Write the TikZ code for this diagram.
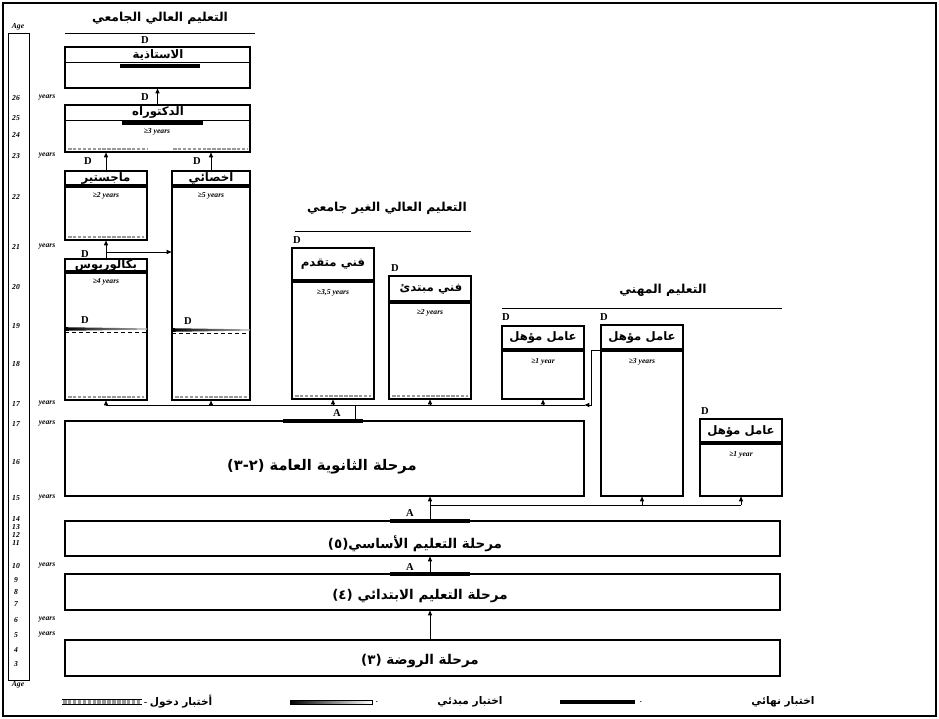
\documentclass[tikz,border=0pt]{standalone}
\usepackage{fontspec}
\setmainfont{Liberation Serif}
\newfontfamily\arabicfont[Script=Arabic]{DejaVu Sans}
\newfontfamily\plainsans{DejaVu Sans}
\TeXXeTstate=1
\usetikzlibrary{fit,arrows.meta}

\newcommand{\artxt}[1]{{\arabicfont\bfseries\beginR #1\endR}}
\newcommand{\lpar}{\hbox{\plainsans\bfseries(}}
\newcommand{\rpar}{\hbox{\plainsans\bfseries)}}
% entry test strip and initial test strip
\newcommand{\entrybar}[3]{\draw[line width=0.5pt, double=white, double distance=2.8pt] (#1,#3) -- (#2,#3);
  \draw[gray!80, line width=2pt, dash pattern=on 3pt off 1.2pt] (#1+1,#3) -- (#2-1,#3);}
\newcommand{\initbar}[3]{\shade[left color=black, right color=gray!60] (#1,#3-1.8) -- (#2,#3-0.6) -- (#2,#3+0.6) -- (#1,#3+1.8) -- cycle;
  \draw[dashed, line width=0.5pt] (#1,#3+3) -- (#2,#3+3);}

\begin{document}
\begin{tikzpicture}[x=0.03cm, y=-0.03cm,
    box/.style={draw, line width=1pt, inner sep=0pt},
    arr/.style={-{Triangle[length=4pt,width=3.5pt]}, line width=0.6pt},
    link/.style={line width=0.6pt},
    finalbar/.style={line width=2.6pt},
    boxtitle/.style={font=\fontsize{10}{12}\selectfont, inner sep=0pt},
    stagetext/.style={font=\fontsize{11.5}{13}\selectfont, inner sep=0pt},
    sectitle/.style={font=\fontsize{10.5}{12}\selectfont, inner sep=0pt},
    dur/.style={font=\fontsize{6.5}{7}\selectfont\bfseries\itshape, inner sep=0pt},
    dlabel/.style={font=\fontsize{9}{10}\selectfont\bfseries, inner sep=0pt},
    agelabel/.style={font=\fontsize{6.5}{7}\selectfont\bfseries\itshape, inner sep=0pt}]

\useasboundingbox (0,0) rectangle (939,719);
\draw[line width=1pt] (3,3) rectangle (936,716);

% age scale
\draw[line width=0.5pt] (8,33) rectangle (29,680);
\node[agelabel] (age-top) at (18,27) {Age};
\node[agelabel] (age-bot) at (18,685) {Age};
\foreach \y/\n/\w in {98/26/years, 118/25/, 135/24/, 156/23/years, 197/22/, 247/21/years,
    287/20/, 326/19/, 364/18/, 404/17/years, 424/17/years, 462/16/, 498/15/years,
    519/14/, 527/13/, 535/12/, 543/11/, 566/10/years, 580/9/, 592/8/, 604/7/,
    620/6/years, 635/5/years, 650/4/, 664/3/}
{
  \node[agelabel] at (16,\y) {\n};
  \node[agelabel] at (47,\y) {\w};
}

% section titles
\node[sectitle] (univ) at (160,18) {\artxt{التعليم العالي الجامعي}};
\draw[line width=0.8pt] (65,33) -- (255,33);
\node[sectitle] (nonuniv) at (387,208) {\artxt{التعليم العالي الغير جامعي}};
\draw[line width=0.8pt] (295,231) -- (471,231);
\node[sectitle] (vocat) at (663,290) {\artxt{التعليم المهني}};
\draw[line width=0.8pt] (502,308) -- (782,308);

% boxes
\node[box, fit={(65,47) (250,88)}] (prof) {};
\node[box, fit={(65,105) (250,152)}] (doc) {};
\node[box, fit={(65,171) (147,240)}] (mast) {};
\node[box, fit={(172,171) (250,400)}] (spec) {};
\node[box, fit={(65,259) (147,400)}] (bach) {};
\node[box, fit={(292,248) (374,399)}] (adv) {};
\node[box, fit={(389,276) (471,399)}] (beg) {};
\node[box, fit={(502,326) (584,399)}] (voc1) {};
\node[box, fit={(601,325) (683,496)}] (voc3) {};
\node[box, fit={(700,419) (782,496)}] (voc1b) {};
\node[box, fit={(65,421) (584,496)}] (sec) {};
\node[box, fit={(65,521) (780,556)}] (basic) {};
\node[box, fit={(65,574) (780,610)}] (prim) {};
\node[box, fit={(65,640) (780,676)}] (kg) {};

% inner lines of the top boxes
\draw[line width=0.4pt] (65,62) -- (250,62);
\draw[line width=0.4pt] (65,120) -- (250,120);
\draw[finalbar] (120,66) -- (200,66);
\draw[finalbar] (122,123) -- (203,123);

% final test bars under the titles
\foreach \xa/\xb/\y in {65/147/186, 172/250/186, 65/147/272, 292/374/281, 389/471/302,
    502/584/350, 601/683/350, 700/782/443, 283/363/421, 390/470/521, 390/470/574}
  \draw[finalbar] (\xa,\y) -- (\xb,\y);

% entry test strips
\entrybar{67}{148}{149}
\entrybar{172}{248}{149}
\entrybar{67}{145}{237}
\entrybar{67}{145}{397}
\entrybar{174}{248}{397}
\entrybar{294}{372}{396}
\entrybar{391}{469}{396}

% initial test strips
\initbar{65}{147}{329}
\initbar{172}{250}{330}

% box texts
\node[boxtitle] (prof-t) at (158,55) {\artxt{الاستاذية}};
\node[boxtitle] (doc-t) at (158,112) {\artxt{الدكتوراه}};
\node[dur] at (157,132) {≥3 years};
\node[boxtitle] (mast-t) at (106,178) {\artxt{ماجستير}};
\node[dur] at (106,196) {≥2 years};
\node[boxtitle] (spec-t) at (211,178) {\artxt{اخصائي}};
\node[dur] at (211,196) {≥5 years};
\node[boxtitle] (bach-t) at (106,265) {\artxt{بكالوريوس}};
\node[dur] at (106,282) {≥4 years};
\node[boxtitle] (adv-t) at (333,264) {\artxt{فني متقدم}};
\node[dur] at (333,293) {≥3,5 years};
\node[boxtitle] (beg-t) at (431,289) {\artxt{فني مبتدئ}};
\node[dur] at (430,313) {≥2 years};
\node[boxtitle] (voc1-t) at (543,337) {\artxt{عامل مؤهل}};
\node[dur] at (543,362) {≥1 year};
\node[boxtitle] (voc3-t) at (642,337) {\artxt{عامل مؤهل}};
\node[dur] at (642,362) {≥3 years};
\node[boxtitle] (voc1b-t) at (741,431) {\artxt{عامل مؤهل}};
\node[dur] at (741,455) {≥1 year};
\node[stagetext, font=\fontsize{12.5}{14}\selectfont] (sec-t) at (322,467)
  {\artxt{مرحلة الثانوية العامة \beginL\lpar\hbox{٣}-\hbox{٢}\rpar\endL}};
\node[stagetext] (basic-t) at (415,544) {\artxt{مرحلة التعليم الأساسي(٥)}};
\node[stagetext] (prim-t) at (420,596) {\artxt{مرحلة التعليم الابتدائي (٤)}};
\node[stagetext] (kg-t) at (420,661) {\artxt{مرحلة الروضة (٣)}};

% D and A marks
\foreach \x/\y in {145/40, 145/97, 88/161, 197/161, 85/254, 85/320, 188/321,
    297/240, 395/268, 506/317, 604/317, 705/411}
  \node[dlabel] at (\x,\y) {D};
\foreach \x/\y in {337/413, 410/513, 410/567}
  \node[dlabel] at (\x,\y) {A};

% connectors in higher education
\draw[arr] (doc.north) -- (prof.south);
\draw[arr] (mast.north) -- (mast.north |- doc.south);
\draw[arr] (spec.north) -- (spec.north |- doc.south);
\coordinate (bj) at (106,252);
\draw[arr] (bach.north) -- (mast.south);
\draw[arr] (bj) -- (spec.west |- bj);

% distribution after secondary
\coordinate (dist) at (355,405);
\draw[link] (sec.north -| dist) -- (dist);
\draw[link] (bach.south |- dist) -- (voc1.east |- dist);
\foreach \b in {bach,spec,adv,beg,voc1}
  \draw[arr] (\b.south |- dist) -- (\b.south);
\coordinate (vj) at (591,350);
\draw[arr] (voc3.west |- vj) -- (vj) |- (voc1.east |- dist);

% lower stages
\coordinate (spine) at (430,505);
\draw[arr] (basic.north -| spine) -- (sec.south -| spine);
\draw[link] (spine) -- (voc1b.south |- spine);
\draw[arr] (voc3.south |- spine) -- (voc3.south);
\draw[arr] (voc1b.south |- spine) -- (voc1b.south);
\draw[arr] (prim.north -| spine) -- (basic.south -| spine);
\draw[arr] (kg.north -| spine) -- (prim.south -| spine);

% legend
\draw[line width=0.5pt, double=white, double distance=3.6pt] (62,702) -- (142,702);
\draw[gray!80, line width=2.6pt, dash pattern=on 3pt off 1.2pt] (63,702) -- (141,702);
\node[font=\fontsize{9}{10}\selectfont] (leg-entry) at (178,702) {- \artxt{أختبار دخول}};
\shade[left color=black, right color=white, draw=black, line width=0.4pt] (290,700) rectangle (372,704);
\node[font=\fontsize{9}{10}\selectfont] (leg-init-d) at (377,702) {.};
\node[font=\fontsize{9}{10}\selectfont] (leg-init) at (470,702) {\artxt{اختبار مبدئي}};
\draw[line width=3pt] (560,702) -- (635,702);
\node[font=\fontsize{9}{10}\selectfont] (leg-final-d) at (641,702) {.};
\node[font=\fontsize{9}{10}\selectfont] (leg-final) at (783,702) {\artxt{اختبار نهائي}};
\end{tikzpicture}
\end{document}
